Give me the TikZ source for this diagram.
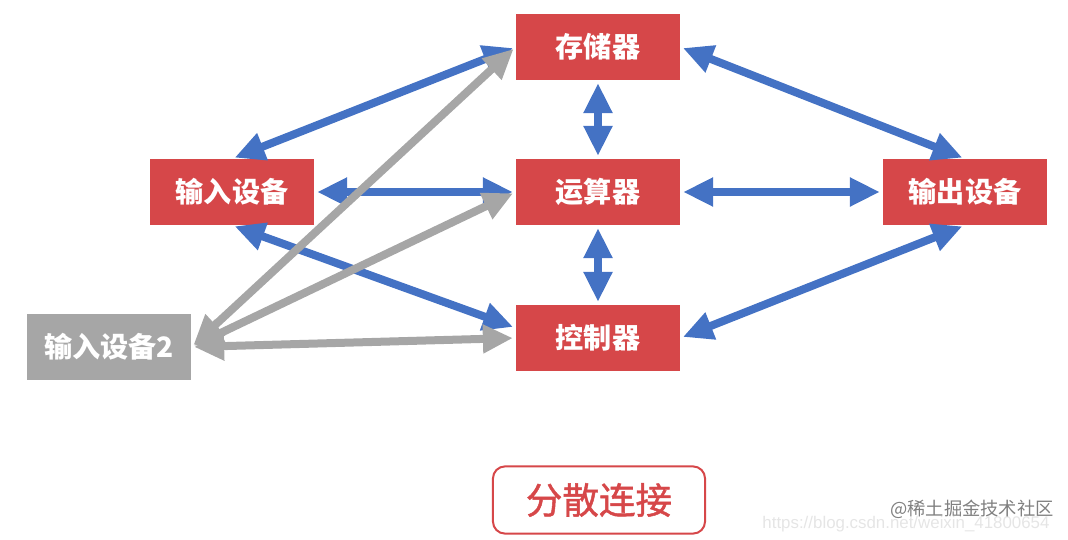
\documentclass[tikz,border=0pt]{standalone}
\usepackage{fontspec}
\usepackage{tikz}
\usetikzlibrary{arrows.meta,positioning,calc}
\newfontfamily\cjk{Noto Sans CJK SC}
\newfontfamily\cjkmid[FakeBold=1.2]{Noto Sans CJK SC}
\setsansfont{Liberation Sans}
\definecolor{boxred}{RGB}{214,71,73}
\definecolor{linkblue}{RGB}{68,114,196}
\definecolor{linkgray}{RGB}{166,166,166}

\begin{document}
\begin{tikzpicture}[x=0.025cm, y=-0.025cm,
    unit/.style={rectangle, fill=boxred, minimum width=4.1cm, minimum height=1.65cm,
        text=white, font=\cjk\bfseries\fontsize{20}{24}\selectfont},
    unitgray/.style={unit, fill=linkgray},
    bluelink/.style={draw=linkblue, line width=0.2cm,
        {Triangle[length=0.75cm, width=0.68cm]}-{Triangle[length=0.75cm, width=0.68cm]},
        shorten <=2pt, shorten >=2pt},
    graylink/.style={bluelink, draw=linkgray}]
    \useasboundingbox (0,0) rectangle (1068,540);

    % units
    \node[unit] (mem) at (598,47) {存储器};
    \node[unit] (in) at (232,192) {输入设备};
    \node[unit] (alu) at (598,192) {运算器};
    \node[unit] (out) at (965,192) {输出设备};
    \node[unit] (ctrl) at (598,338) {控制器};
    \node[unitgray] (in2) at (109,347) {输入设备2};

    % blue links
    \draw[bluelink] (in.north) -- (mem.west);
    \draw[bluelink] (in.east) -- (alu.west);
    \draw[bluelink] (in.south) -- (ctrl.173);
    \draw[bluelink] (mem.south) -- (alu.north);
    \draw[bluelink] (alu.south) -- (ctrl.north);
    \draw[bluelink] (alu.east) -- (out.west);
    \draw[bluelink] (mem.east) -- (out.north);
    \draw[bluelink] (ctrl.east) -- (out.south);

    % gray links
    \draw[graylink] (in2.east) -- (mem.west);
    \draw[graylink] (in2.east) -- (alu.west);
    \draw[graylink] (in2.east) -- (ctrl.west);

    % caption
    \node[draw=boxred, line width=0.05cm, rounded corners=0.3cm, minimum width=5.3cm,
        minimum height=1.68cm, text=boxred, font=\cjkmid\fontsize{26}{30}\selectfont]
        (tag) at (599,500) {分散连接};

    % watermark
    \node[text=black!10, font=\sffamily\fontsize{12}{14}\selectfont] (url) at (906,524)
        {https://blog.csdn.net/weixin\_41800654};
    \node[text=black!50, font=\cjk\fontsize{13}{15}\selectfont] (mark) at (972,509)
        {@稀土掘金技术社区};
\end{tikzpicture}
\end{document}
